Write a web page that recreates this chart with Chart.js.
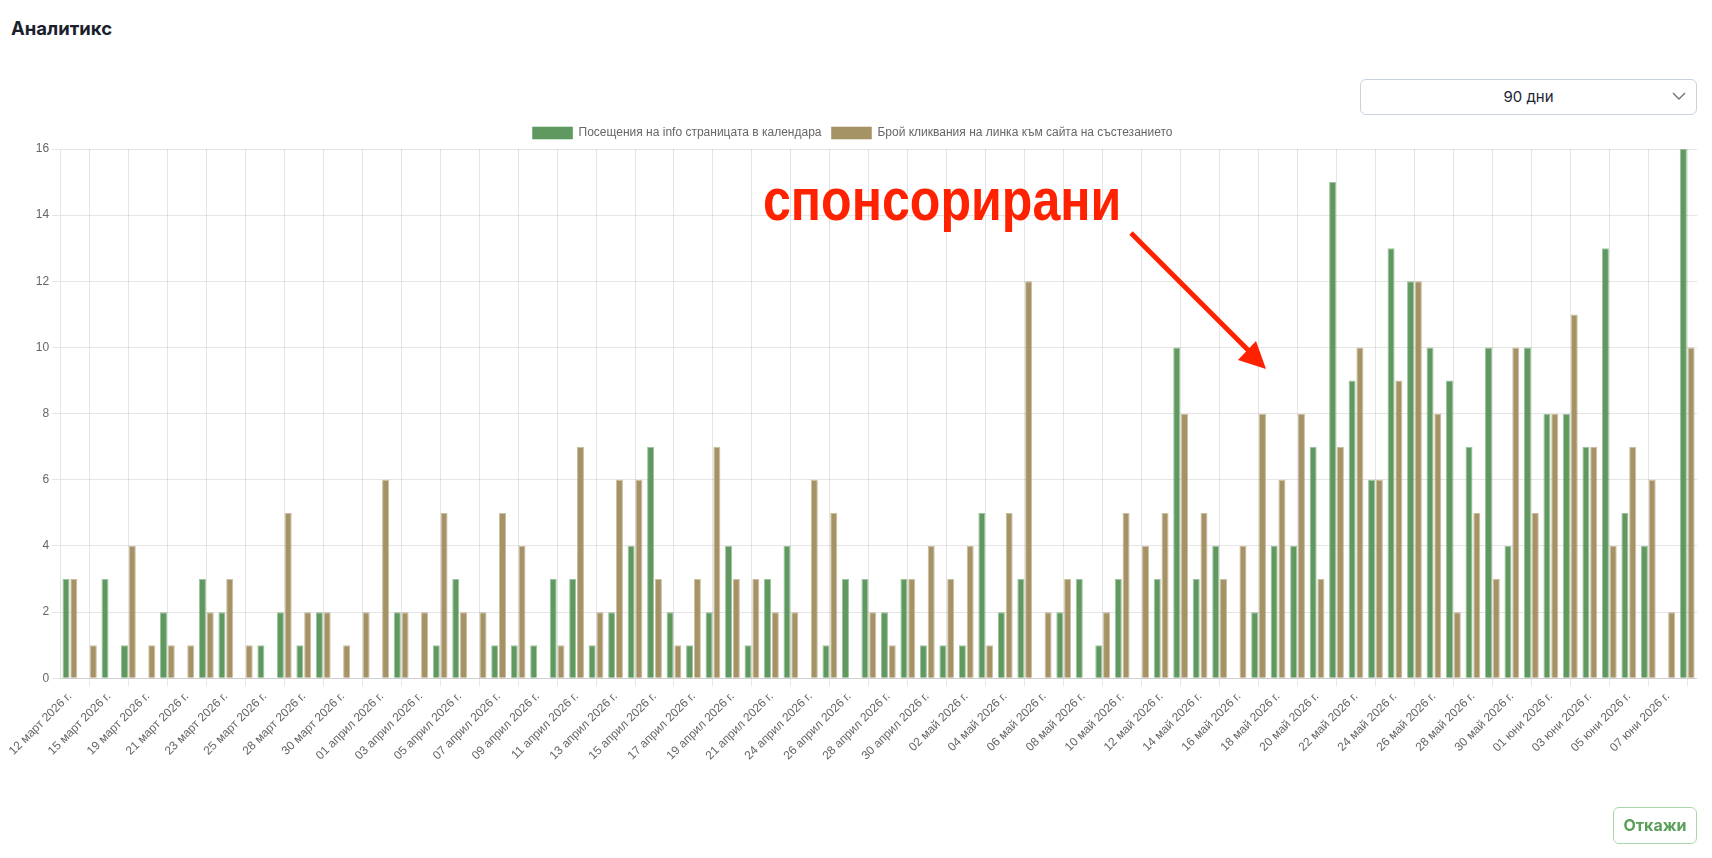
<!DOCTYPE html>
<html lang="bg">
<head>
<meta charset="utf-8">
<title>Аналитикс</title>
<script src="https://cdn.jsdelivr.net/npm/chart.js@4.4.1/dist/chart.umd.min.js"></script>
<style>
    body { margin: 0; background: #fff; width: 1712px; height: 858px; position: relative; overflow: hidden; font-family: Inter, "Liberation Sans", sans-serif; }
    .title { position: absolute; left: 11px; top: 17px; font-size: 18.5px; line-height: 22px; font-weight: 700; color: #1b1f2e; }
    .period { position: absolute; left: 1360px; top: 79px; width: 335px; height: 34px; border: 1px solid #c8d2dd; border-radius: 6px; box-sizing: content-box; }
    .period span { position: absolute; left: 0; right: 0; top: 0; line-height: 34px; text-align: center; font-size: 15px; color: #1d2433; }
    .period svg { position: absolute; right: 10px; top: 12px; }
    #chartBox { position: absolute; left: 8px; top: 117px; width: 1689px; height: 653px; }
    .cancel { position: absolute; left: 1613px; top: 807px; width: 82px; height: 35px; border: 1px solid #a9d6a9; border-radius: 6px; color: #5a9f5a; font-weight: 700; font-size: 16px; line-height: 35px; text-align: center; }
    .note { position: absolute; left: 763px; top: 170px; font-family: "Liberation Sans", Arial, sans-serif; font-weight: 700; font-size: 60px; line-height: 60px; color: #ff2200; transform: scaleX(0.835); transform-origin: left top; white-space: nowrap; }
    #arrow { position: absolute; left: 0; top: 0; }
</style>
</head>
<body>
<div class="title">Аналитикс</div>
<div class="period"><span>90 дни</span>
    <svg width="14" height="9" viewBox="0 0 14 9"><path d="M1 1 L7 7 L13 1" fill="none" stroke="#6b7280" stroke-width="1.4"/></svg>
</div>
<div id="chartBox"><canvas id="myChart"></canvas></div>
<div class="note">спонсорирани</div>
<svg id="arrow" width="1712" height="858">
    <line x1="1131" y1="233" x2="1249" y2="351" stroke="#ff2200" stroke-width="5"/>
    <polygon points="1256,341 1238,360 1266,369" fill="#ff2200"/>
</svg>
<div class="cancel">Откажи</div>

<script>
var dates = [
    '12 март 2026 г.', '13 март 2026 г.', '15 март 2026 г.', '17 март 2026 г.', '19 март 2026 г.',
    '20 март 2026 г.', '21 март 2026 г.', '22 март 2026 г.', '23 март 2026 г.', '24 март 2026 г.',
    '25 март 2026 г.', '26 март 2026 г.', '28 март 2026 г.', '29 март 2026 г.', '30 март 2026 г.',
    '31 март 2026 г.', '01 април 2026 г.', '02 април 2026 г.', '03 април 2026 г.', '04 април 2026 г.',
    '05 април 2026 г.', '06 април 2026 г.', '07 април 2026 г.', '08 април 2026 г.', '09 април 2026 г.',
    '10 април 2026 г.', '11 април 2026 г.', '12 април 2026 г.', '13 април 2026 г.', '14 април 2026 г.',
    '15 април 2026 г.', '16 април 2026 г.', '17 април 2026 г.', '18 април 2026 г.', '19 април 2026 г.',
    '20 април 2026 г.', '21 април 2026 г.', '23 април 2026 г.', '24 април 2026 г.', '25 април 2026 г.',
    '26 април 2026 г.', '27 април 2026 г.', '28 април 2026 г.', '29 април 2026 г.', '30 април 2026 г.',
    '01 май 2026 г.', '02 май 2026 г.', '03 май 2026 г.', '04 май 2026 г.', '05 май 2026 г.',
    '06 май 2026 г.', '07 май 2026 г.', '08 май 2026 г.', '09 май 2026 г.', '10 май 2026 г.',
    '11 май 2026 г.', '12 май 2026 г.', '13 май 2026 г.', '14 май 2026 г.', '15 май 2026 г.',
    '16 май 2026 г.', '17 май 2026 г.', '18 май 2026 г.', '19 май 2026 г.', '20 май 2026 г.',
    '21 май 2026 г.', '22 май 2026 г.', '23 май 2026 г.', '24 май 2026 г.', '25 май 2026 г.',
    '26 май 2026 г.', '27 май 2026 г.', '28 май 2026 г.', '29 май 2026 г.', '30 май 2026 г.',
    '31 май 2026 г.', '01 юни 2026 г.', '02 юни 2026 г.', '03 юни 2026 г.', '04 юни 2026 г.',
    '05 юни 2026 г.', '06 юни 2026 г.', '07 юни 2026 г.', '08 юни 2026 г.'
];

// посещения на info страницата
var visits = [
    3, 0, 3, 1, 0, 2, 0, 3, 2, 0, 1, 2, 1, 2,
    0, 0, 0, 2, 0, 1, 3, 0, 1, 1, 1, 3, 3, 1, 2,
    4, 7, 2, 1, 2, 4, 1, 3, 4, 0, 1, 3, 3, 2, 3,
    1, 1, 1, 5, 2, 3, 0, 2, 3, 1, 3, 0, 3, 10, 3,
    4, 0, 2, 4, 4, 7, 15, 9, 6, 13, 12, 10, 9, 7, 10,
    4, 10, 8, 8, 7, 13, 5, 4, 0, 16
];

// кликвания на линка към сайта
var clicks = [
    3, 1, 0, 4, 1, 1, 1, 2, 3, 1, 0, 5, 2, 2,
    1, 2, 6, 2, 2, 5, 2, 2, 5, 4, 0, 1, 7, 2, 6,
    6, 3, 1, 3, 7, 3, 3, 2, 2, 6, 5, 0, 2, 1, 3,
    4, 3, 4, 1, 5, 12, 2, 3, 0, 2, 5, 4, 5, 8, 5,
    3, 4, 8, 6, 8, 3, 7, 10, 6, 9, 12, 8, 2, 5, 3,
    10, 5, 8, 11, 7, 4, 7, 6, 2, 10
];

var ctx = document.getElementById('myChart').getContext('2d');
var myChart = new Chart(ctx, {
    type: 'bar',
    data: {
        labels: dates,
        datasets: [{
            label: 'Посещения на info страницата в календара',
            data: visits,
            backgroundColor: '#5f995f',
            borderColor: 'rgba(95, 153, 95, 0.6)',
            borderWidth: 1
        },
        {
            label: 'Брой кликвания на линка към сайта на състезанието',
            data: clicks,
            backgroundColor: '#a69365',
            borderColor: 'rgba(166, 147, 101, 0.6)',
            borderWidth: 1
        }]
    },
    options: {
        responsive: true,
        maintainAspectRatio: false,
        animation: false,
        layout: { padding: { bottom: 4 } },
        plugins: {
            legend: { position: 'top' },
            tooltip: { enabled: false }
        },
        scales: {
            x: {
                ticks: { minRotation: 45, maxRotation: 45 }
            },
            y: {
                beginAtZero: true
            }
        }
    }
});
</script>
</body>
</html>
